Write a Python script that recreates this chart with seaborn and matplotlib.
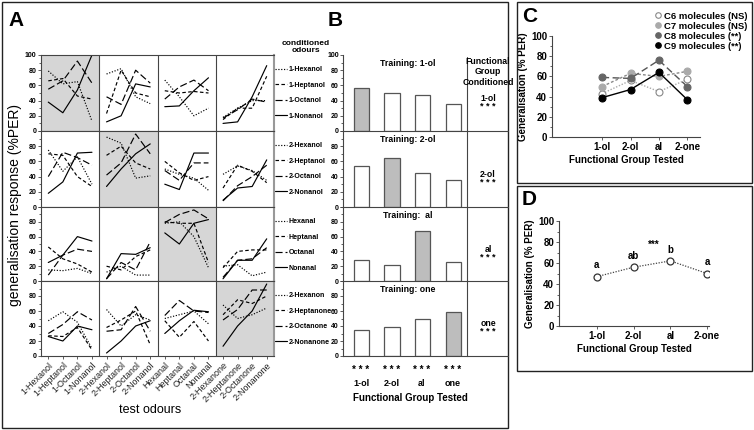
import numpy as np
import pandas as pd
import matplotlib
matplotlib.use("Agg")
import matplotlib.pyplot as plt
import seaborn as sns
from matplotlib.lines import Line2D
from matplotlib.patches import Rectangle
from matplotlib.ticker import MultipleLocator

sns.set_theme(style="white")
plt.rcParams["font.family"] = ["Liberation Sans", "DejaVu Sans"]
plt.rcParams["text.color"] = "black"
plt.rcParams["axes.labelcolor"] = "black"
plt.rcParams["xtick.color"] = "black"
plt.rcParams["ytick.color"] = "black"

W, H = 754, 430

# ---------------- data ----------------
test_odours = ["1-Hexanol", "1-Heptanol", "1-Octanol", "1-Nonanol",
               "2-Hexanol", "2-Heptanol", "2-Octanol", "2-Nonanol",
               "Hexanal", "Heptanal", "Octanal", "Nonanal",
               "2-Hexanone", "2-Heptanone", "2-Octanone", "2-Nonanone"]

cond_1ol = ["1-Hexanol", "1-Heptanol", "1-Octanol", "1-Nonanol"]
cond_2ol = ["2-Hexanol", "2-Heptanol", "2-Octanol", "2-Nonanol"]
cond_al = ["Hexanal", "Heptanal", "Octanal", "Nonanal"]
cond_one = ["2-Hexanon", "2-Heptanone", "2-Octanone", "2-Nonanone"]

# % PER to the 16 test odours, one list per conditioned odour
r1_hexanol = [79, 62, 65, 13, 75, 82, 45, 36, 67, 45, 20, 30, 18, 30, 40, 40]
r1_heptanol = [66, 69, 46, 42, 23, 80, 50, 45, 53, 50, 52, 50, 15, 30, 30, 72]
r1_octanol = [55, 66, 92, 63, 45, 35, 80, 63, 42, 58, 67, 53, 17, 28, 42, 38]
r1_nonanol = [38, 24, 54, 100, 12, 20, 62, 58, 32, 33, 53, 70, 10, 12, 45, 86]

r2_hexanol = [75, 47, 66, 30, 92, 84, 38, 41, 50, 43, 38, 22, 43, 54, 48, 35]
r2_heptanol = [70, 68, 40, 27, 68, 80, 58, 50, 60, 45, 35, 40, 25, 55, 47, 32]
r2_octanol = [40, 72, 65, 55, 42, 58, 96, 70, 48, 35, 58, 58, 8, 28, 40, 55]
r2_nonanol = [18, 33, 71, 72, 27, 50, 70, 83, 30, 23, 71, 71, 9, 25, 27, 62]

r3_hexanal = [15, 14, 17, 10, 12, 20, 8, 8, 78, 80, 60, 18, 20, 22, 7, 12]
r3_heptanal = [46, 30, 23, 12, 20, 15, 33, 42, 80, 78, 78, 25, 18, 40, 42, 42]
r3_octanal = [8, 35, 43, 40, 3, 25, 15, 53, 79, 90, 96, 84, 5, 28, 30, 45]
r3_nonanal = [25, 35, 60, 54, 3, 37, 36, 45, 65, 50, 78, 83, 3, 28, 28, 57]

r4_hexanon = [47, 59, 45, 10, 62, 40, 55, 48, 50, 55, 60, 43, 68, 50, 55, 64]
r4_heptanone = [27, 26, 38, 8, 38, 48, 60, 15, 47, 25, 46, 20, 55, 75, 70, 80]
r4_octanone = [30, 42, 59, 48, 33, 35, 66, 33, 54, 74, 60, 58, 48, 62, 88, 88]
r4_nonanone = [26, 20, 40, 35, 4, 20, 40, 47, 30, 47, 61, 59, 13, 40, 60, 96]

rows_a = [
    (cond_1ol, [r1_hexanol, r1_heptanol, r1_octanol, r1_nonanol]),
    (cond_2ol, [r2_hexanol, r2_heptanol, r2_octanol, r2_nonanol]),
    (cond_al, [r3_hexanal, r3_heptanal, r3_octanal, r3_nonanal]),
    (cond_one, [r4_hexanon, r4_heptanone, r4_octanone, r4_nonanone]),
]

# panel B
groups_b = ["1-ol", "2-ol", "al", "one"]
train_1ol = [57, 50, 48, 35]
train_2ol = [54, 64, 45, 36]
train_al = [29, 22, 67, 26]
train_one = [35, 39, 50, 59]
rows_b = [train_1ol, train_2ol, train_al, train_one]
titles_b = ["Training: 1-ol", "Training: 2-ol", "Training:  al", "Training: one"]

# panel C / D
groups_cd = ["1-ol", "2-ol", "al", "2-one"]
c6 = [43, 56, 45, 57]
c7 = [50, 63, 60, 65]
c8 = [59, 58, 76, 50]
c9 = [39, 47, 64, 37]
mean_gen = [47, 56, 62, 50]
letters_d = ["a", "ab", "b", "a"]


def box(x0, y0, x1, y1):
    return [x0 / W, 1 - y1 / H, (x1 - x0) / W, (y1 - y0) / H]


def fx(px):
    return px / W


def fy(py):
    return 1 - py / H


fig = plt.figure(figsize=(W / 100, H / 100), dpi=100)
fig.patch.set_facecolor("white")

spine_col = "#444444"
dash_map = {0: (1, 1.4), 1: (3, 2), 2: (6, 2.5), 3: ""}

# ---------------- panel A ----------------
row_edges = [55, 131, 207, 281, 356]
for i, (names, series) in enumerate(rows_a):
    ax = fig.add_axes(box(41, row_edges[i], 274, row_edges[i + 1]))
    recs = []
    for k, vals in enumerate(series):
        for p, v in enumerate(vals):
            recs.append({"pos": p, "value": v, "odour": names[k], "block": p // 4})
    df = pd.DataFrame(recs)
    ax.axvspan(4 * i - 0.5, 4 * i + 3.5, color="#d6d6d6", zorder=0, lw=0)
    sns.lineplot(data=df, x="pos", y="value", style="odour", units="block",
                 estimator=None, color="black", lw=0.85, style_order=names,
                 dashes={names[k]: dash_map[k] for k in range(4)}, ax=ax)
    for b in (3.5, 7.5, 11.5):
        ax.axvline(b, color=spine_col, lw=0.8)
    ax.set_xlim(-0.5, 15.5)
    ax.set_ylim(0, 100)
    ticks = [0, 20, 40, 60, 80, 100]
    ax.set_yticks(ticks)
    ax.set_yticklabels([str(t) if (t < 100 or i == 0) else "" for t in ticks],
                       fontsize=5, fontweight="bold")
    ax.yaxis.set_minor_locator(MultipleLocator(10))
    ax.set_xticks(range(16))
    if i == 3:
        ax.set_xticklabels(test_odours, rotation=45, ha="right",
                           rotation_mode="anchor", fontsize=6.5, color="#222222")
    else:
        ax.set_xticklabels([])
    ax.tick_params(axis="both", which="both", direction="out", length=2,
                   width=0.6, color=spine_col, pad=1.5, bottom=True, left=True)
    ax.tick_params(axis="y", which="minor", length=1.5)
    ax.set_xlabel("")
    ax.set_ylabel("")
    for s in ax.spines.values():
        s.set_color(spine_col)
        s.set_linewidth(0.8)
    ax.spines["right"].set_color("#999999")
    ax.spines["right"].set_linewidth(1.5)
    ax.set_facecolor("white")
    h, l = ax.get_legend_handles_labels()
    ax.legend(h, l, loc="upper left", bbox_to_anchor=(1.0, 0.86), frameon=False,
              prop={"weight": "bold", "size": 5.1},
              handlelength=1.7, handletextpad=0.3, labelspacing=1.2,
              borderpad=0, borderaxespad=0.1)

fig.text(fx(306), fy(47), "conditioned\nodours", ha="center", va="center",
         fontsize=6, fontweight="bold", linespacing=1.1)
fig.text(fx(15), fy(205), "generalisation response (%PER)", rotation=90,
         ha="center", va="center", fontsize=10)
fig.text(fx(150), fy(410), "test odours", ha="center", va="center", fontsize=9)
fig.text(fx(8), fy(20), "A", fontsize=15, fontweight="bold", va="center")
fig.text(fx(328), fy(20), "B", fontsize=15, fontweight="bold", va="center")

# ---------------- panel B ----------------
for i, vals in enumerate(rows_b):
    ax = fig.add_axes(box(343, row_edges[i], 467, row_edges[i + 1]))
    cols = ["#bdbdbd" if j == i else "white" for j in range(4)]
    sns.barplot(x=groups_b, y=vals, hue=groups_b, palette=cols, legend=False,
                width=0.5, edgecolor="#555555", linewidth=0.9, ax=ax)
    ax.set_xlim(-0.6, 3.45)
    ax.set_ylim(0, 100)
    ticks = [0, 20, 40, 60, 80, 100]
    ax.set_yticks(ticks)
    ax.set_yticklabels([str(t) if (t < 100 or i == 0) else "" for t in ticks],
                       fontsize=5, fontweight="bold")
    ax.yaxis.set_minor_locator(MultipleLocator(10))
    ax.set_xticks([])
    ax.tick_params(axis="y", which="both", direction="out", length=2, width=0.6,
                   color=spine_col, pad=1.0, left=True)
    ax.tick_params(axis="y", which="minor", length=1.5)
    for s in ("top", "right"):
        ax.spines[s].set_visible(False)
    for s in ("left", "bottom"):
        ax.spines[s].set_color(spine_col)
        ax.spines[s].set_linewidth(0.8)
    ax.set_facecolor("none")
    ax.text(0.52, 0.89, titles_b[i], transform=ax.transAxes, ha="center",
            va="center", fontsize=6.3, fontweight="bold")
    ax.text(1.17, 0.43, groups_b[i], transform=ax.transAxes,
            ha="center", va="center", fontsize=6.3, fontweight="bold")
    ax.text(1.17, 0.32, "* * *", transform=ax.transAxes,
            ha="center", va="center", fontsize=6.5, fontweight="bold")

# row separators in the right column of B
for y in row_edges[1:]:
    fig.add_artist(Line2D([fx(467), fx(508)], [fy(y), fy(y)], color=spine_col, lw=0.8))
fig.add_artist(Line2D([fx(467), fx(467)], [fy(57), fy(356)], color=spine_col, lw=0.8))
fig.text(fx(488), fy(72), "Functional\nGroup\nConditioned", ha="center",
         va="center", fontsize=6.3, fontweight="bold", linespacing=1.15)
for xc, g in zip([361, 392, 422, 453], groups_b):
    fig.text(fx(xc), fy(370), "* * *", ha="center", va="center", fontsize=7,
             fontweight="bold")
    fig.text(fx(xc), fy(383), g, ha="center", va="center", fontsize=6.5,
             fontweight="bold")
fig.text(fx(410), fy(398), "Functional Group Tested", ha="center", va="center",
         fontsize=7, fontweight="bold")

# ---------------- panel C ----------------
axc = fig.add_axes(box(552, 36, 700, 137))
pos = np.arange(4)
c_styles = [
    ("C6 molecules (NS)", c6, "white", "#888888", "#aaaaaa", (1, 1.2)),
    ("C7 molecules (NS)", c7, "#aaaaaa", "#aaaaaa", "#888888", (2, 1.5)),
    ("C8 molecules (**)", c8, "#666666", "#666666", "#555555", (5, 2.5)),
    ("C9 molecules (**)", c9, "black", "black", "black", ""),
]
handles = []
for lab, vals, fc, ec, lc, ds in c_styles:
    sns.lineplot(x=pos, y=vals, color=lc, lw=1.0, ax=axc, marker="o", ms=5,
                 markerfacecolor=fc, markeredgecolor=ec, markeredgewidth=0.8,
                 dashes=False, linestyle=(0, ds) if ds else "-")
    handles.append(Line2D([], [], ls="none", marker="o", ms=4, markerfacecolor=fc,
                          markeredgecolor=ec, markeredgewidth=0.8, label=lab))
axc.set_xlim(-1.77, 3.45)
axc.set_ylim(0, 100)
axc.set_xticks(pos)
axc.set_xticklabels(groups_cd, fontsize=7, fontweight="bold")
axc.set_yticks([0, 20, 40, 60, 80, 100])
axc.set_yticklabels(["0", "20", "40", "60", "80", "100"], fontsize=7, fontweight="bold")
axc.yaxis.set_minor_locator(MultipleLocator(10))
axc.tick_params(axis="both", which="both", direction="out", length=2, width=0.6,
                color=spine_col, pad=1.5, left=True, bottom=True)
axc.tick_params(axis="y", which="minor", length=1.5)
for s in ("top", "right"):
    axc.spines[s].set_visible(False)
for s in ("left", "bottom"):
    axc.spines[s].set_color(spine_col)
    axc.spines[s].set_linewidth(0.8)
axc.set_xlabel("Functional Group Tested", fontsize=7, fontweight="bold", labelpad=2)
axc.set_ylabel("Generalisation (% PER)", fontsize=7, fontweight="bold", labelpad=2)
fig.legend(handles=handles, loc="upper right", bbox_to_anchor=(fx(752), fy(7)),
           frameon=False, prop={"weight": "bold", "size": 6.8}, handletextpad=0.1,
           labelspacing=0.1, borderpad=0, handlelength=1.0)
fig.text(fx(522), fy(16), "C", fontsize=15, fontweight="bold", va="center")

# ---------------- panel D ----------------
axd = fig.add_axes(box(559, 221, 709, 326))
sns.lineplot(x=pos, y=mean_gen, color="#444444", lw=0.9, ax=axd, marker="o",
             ms=5, markerfacecolor="white", markeredgecolor="#333333",
             markeredgewidth=0.9, linestyle=(0, (1, 1.2)))
for p, v, t in zip(pos, mean_gen, letters_d):
    axd.text(p, v + 6, t, ha="center", va="bottom", fontsize=7, fontweight="bold")
axd.text(1.55, 77, "***", ha="center", va="center", fontsize=7, fontweight="bold")
axd.set_xlim(-1.03, 3.05)
axd.set_ylim(0, 100)
axd.set_xticks(pos)
axd.set_xticklabels(groups_cd, fontsize=7, fontweight="bold")
axd.set_yticks([0, 20, 40, 60, 80, 100])
axd.set_yticklabels(["0", "20", "40", "60", "80", "100"], fontsize=7, fontweight="bold")
axd.yaxis.set_minor_locator(MultipleLocator(10))
axd.tick_params(axis="both", which="both", direction="out", length=2, width=0.6,
                color=spine_col, pad=1.5, left=True, bottom=True)
axd.tick_params(axis="y", which="minor", length=1.5)
for s in ("top", "right"):
    axd.spines[s].set_visible(False)
for s in ("left", "bottom"):
    axd.spines[s].set_color(spine_col)
    axd.spines[s].set_linewidth(0.8)
axd.set_xlabel("Functional Group Tested", fontsize=7, fontweight="bold", labelpad=2)
axd.set_ylabel("Generalisation (% PER)", fontsize=7, fontweight="bold", labelpad=2)
fig.text(fx(522), fy(200), "D", fontsize=15, fontweight="bold", va="center")

# ---------------- outer boxes ----------------
for x0, y0, x1, y1 in [(2, 2, 508, 428), (517, 2, 752, 183), (517, 186, 752, 371)]:
    fig.add_artist(Rectangle((fx(x0), fy(y1)), (x1 - x0) / W, (y1 - y0) / H,
                             fill=False, edgecolor="#222222", lw=1.0,
                             transform=fig.transFigure))

fig.savefig("out.png", dpi=100, facecolor="white")
